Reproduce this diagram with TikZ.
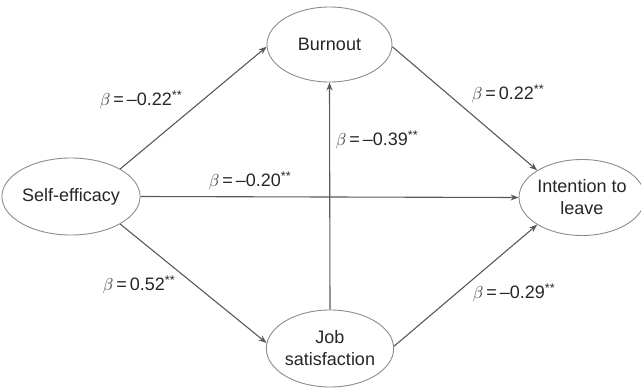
\documentclass[tikz,border=0pt]{standalone}
\usepackage{fontspec}
\setmainfont{Liberation Sans}
\usetikzlibrary{shapes.geometric,arrows.meta}
\tikzset{
  var/.style={ellipse, draw=black!45, line width=0.9pt, fill=white, inner sep=0pt, align=center,
    font=\fontsize{18}{22}\selectfont, text=black!85},
  arr/.style={draw=black!65, line width=1.1pt, -{Stealth[length=8pt,width=6pt]}},
  lab/.style={font=\fontsize{18}{22}\selectfont, text=black!85, inner sep=0pt}
}
\newcommand{\bet}[1]{$\beta$\,=\,#1\textsuperscript{**}}
\begin{document}
\begin{tikzpicture}[x=1pt,y=-1pt]
\useasboundingbox (0,0) rectangle (641,388);
\node[var, minimum width=124pt, minimum height=77pt] (se) at (71,196.5) {Self-efficacy};
\node[var, minimum width=125pt, minimum height=75pt] (bo) at (329.5,44.5) {Burnout};
\node[var, minimum width=120pt, minimum height=76pt] (il) at (582,197.5) {Intention to\\leave};
\node[var, minimum width=126pt, minimum height=77pt] (js) at (330,348.5) {Job\\satisfaction};
\draw[arr] (se.north east) -- (bo.182);
\draw[arr] (bo.-2) -- (il.north west);
\draw[arr] (se.east) -- (il.west);
\draw[arr] (js.north) -- (bo.south);
\draw[arr] (se.south east) -- (js.175);
\draw[arr] (js.2) -- (il.south west);
\node[lab] (l1) at (141,100) {\bet{–0.22}};
\node[lab] (l2) at (508,94) {\bet{0.22}};
\node[lab] (l3) at (377,140) {\bet{–0.39}};
\node[lab] (l4) at (250,181) {\bet{–0.20}};
\node[lab] (l5) at (139,285) {\bet{0.52}};
\node[lab] (l6) at (514,293) {\bet{–0.29}};
\end{tikzpicture}
\end{document}
